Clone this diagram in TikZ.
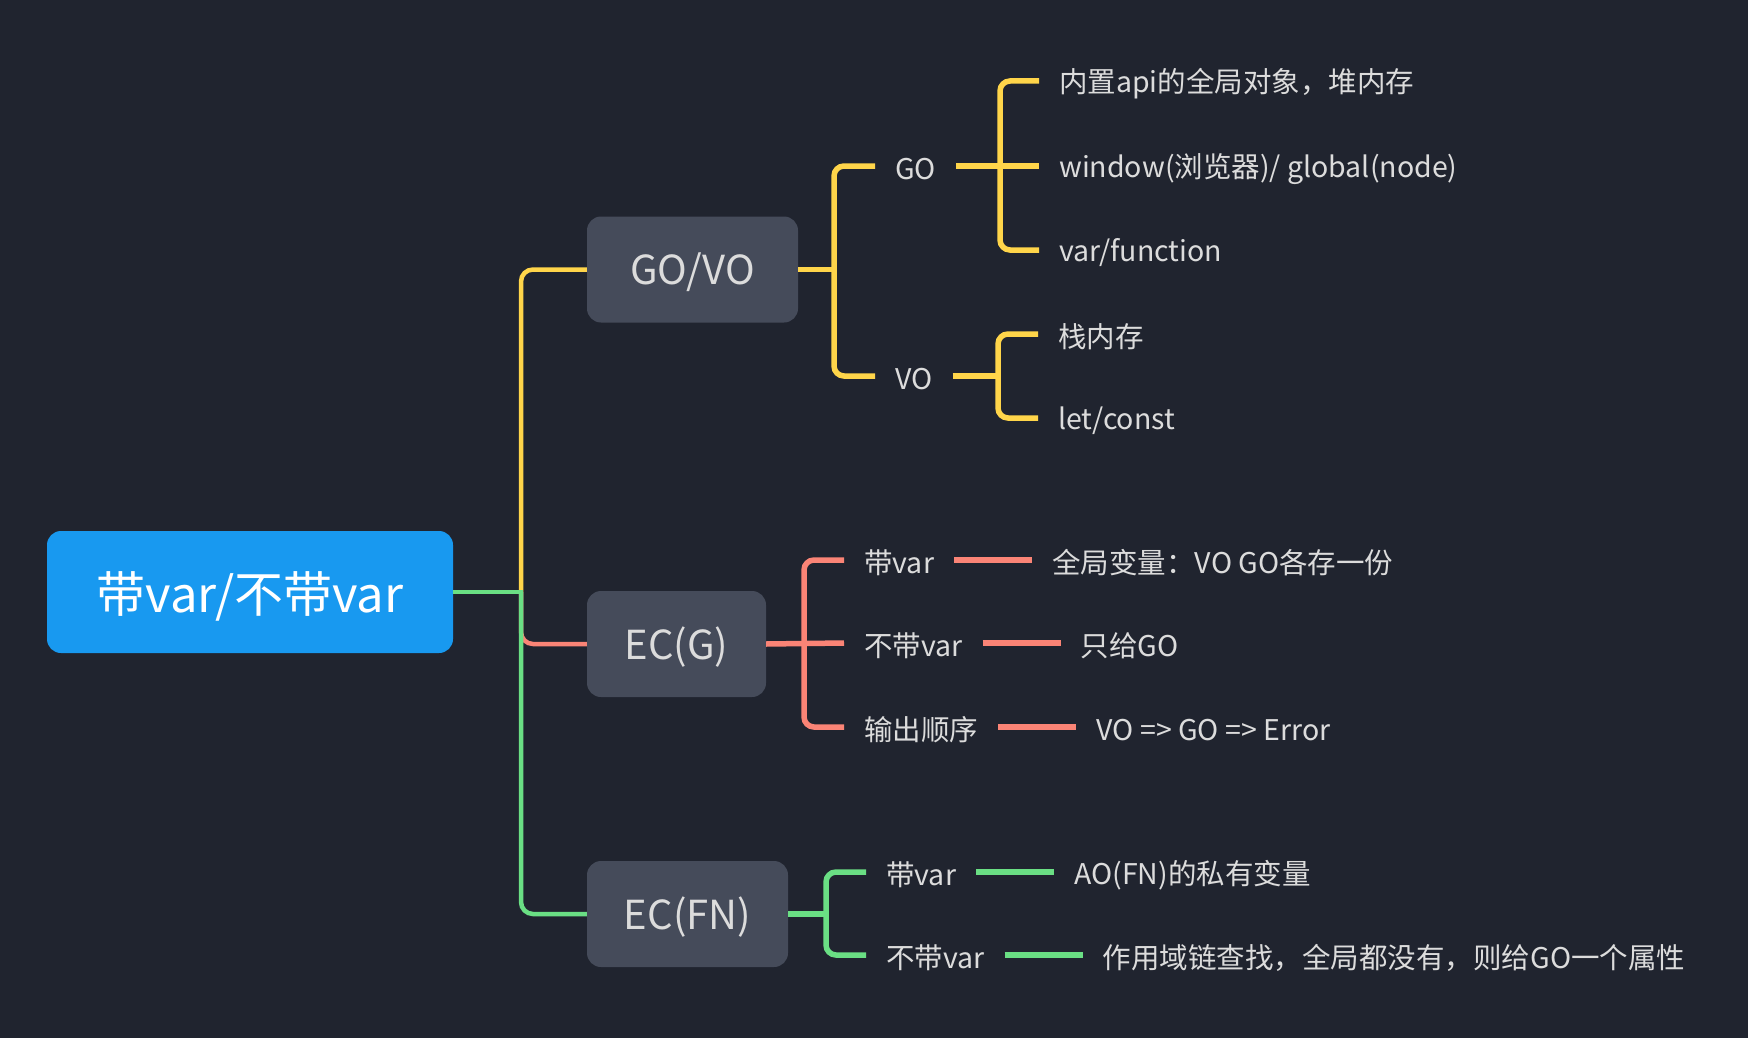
\documentclass[tikz,border=0pt]{standalone}
\usepackage{fontspec}
\setmainfont{Noto Sans CJK SC}
\usetikzlibrary{positioning}
\definecolor{bgc}{HTML}{20242F}
\definecolor{bluec}{HTML}{1899F0}
\definecolor{boxc}{HTML}{454B5A}
\definecolor{ylw}{HTML}{FFD54A}
\definecolor{rdc}{HTML}{FA8476}
\definecolor{gnc}{HTML}{6ADF84}
\definecolor{txt}{HTML}{DCDCDC}
\begin{document}
\begin{tikzpicture}[x=1pt,y=-1pt,
  rootbox/.style={rectangle, rounded corners=14pt, fill=bluec, text=white, inner sep=0pt,
    font=\fontsize{49}{56}\selectfont},
  catbox/.style={rectangle, rounded corners=14pt, fill=boxc, text=txt, inner sep=0pt,
    minimum height=106pt, font=\fontsize{40}{46}\selectfont},
  leaf/.style={anchor=west, inner sep=0pt, text=txt, font=\fontsize{28.5}{34}\selectfont},
  far/.style={leaf, right=118pt of #1},
  mainln/.style={line width=4.5pt, rounded corners=12pt},
  subln/.style={line width=5.5pt, rounded corners=10pt},
]
\fill[bgc] (0,0) rectangle (1748,1038);
\useasboundingbox (0,0) rectangle (1748,1038);

% main nodes
\node[rootbox, minimum width=406pt, minimum height=122pt] (root) at (250,592) {};
\node[text=white, font=\fontsize{49}{56}\selectfont, inner sep=0pt] (roottext) at (250,596) {带var/不带var};
\node[catbox, minimum width=211pt] (govo) at (692.5,269.5) {};
\node[text=txt, font=\fontsize{40}{46}\selectfont, inner sep=0pt] (govot) at (692.5,272.5) {GO/VO};
\node[catbox, minimum width=179pt] (ecg) at (676.5,644) {};
\node[text=txt, font=\fontsize{40}{46}\selectfont, inner sep=0pt] (ecgt) at (676.5,647) {EC(G)};
\node[catbox, minimum width=201pt] (ecfn) at (687.5,914) {};
\node[text=txt, font=\fontsize{40}{46}\selectfont, inner sep=0pt] (ecfnt) at (687.5,917) {EC(FN)};

% GO/VO subtree
\node[leaf] (go) at (895,169) {GO};
\node[leaf] (vo) at (895,379) {VO};
\node[leaf] (g1) at (1059,84) {内置api的全局对象，堆内存};
\node[leaf] (g2) at (1059,169) {window(浏览器)/ global(node)};
\node[leaf] (g3) at (1059,253) {var/function};
\node[leaf] (v1) at (1058,337) {栈内存};
\node[leaf] (v2) at (1058,421) {let/const};

% EC(G) subtree
\node[leaf] (e1) at (864,563) {带var};
\node[leaf] (e2) at (864,646) {不带var};
\node[leaf] (e3) at (864,730) {输出顺序};
\node[far=e1] (e1l) {全局变量：VO GO各存一份};
\node[far=e2] (e2l) {只给GO};
\node[far=e3] (e3l) {VO => GO => Error};

% EC(FN) subtree
\node[leaf] (f1) at (886,875) {带var};
\node[leaf] (f2) at (886,958) {不带var};
\node[far=f1] (f1l) {AO(FN)的私有变量};
\node[far=f2] (f2l) {作用域链查找，全局都没有，则给GO一个属性};

% trunk
\coordinate (trunk) at (521,592);
\draw[mainln, ylw] (trunk) |- (govo.west);
\draw[mainln, rdc] (trunk) |- (ecg.west);
\draw[mainln, gnc] (trunk) |- (ecfn.west);
\draw[line width=4.5pt, gnc] (root.east) -- ([xshift=2pt]trunk);

% GO/VO brackets
\draw[subln, ylw] (govo.east) -- (834,269.5);
\draw[subln, ylw] ([xshift=-20pt,yshift=3pt]go.west) -| (834,269.5) |- ([xshift=-20pt,yshift=3pt]vo.west);
\draw[subln, ylw] ([xshift=20pt,yshift=3pt]go.east) -- ([xshift=-20pt,yshift=3pt]g2.west);
\draw[subln, ylw] ([xshift=-20pt,yshift=3pt]g1.west) -| (1000,166) |- ([xshift=-20pt,yshift=3pt]g3.west);
\draw[subln, ylw] ([xshift=20pt,yshift=3pt]vo.east) -- (998,376);
\draw[subln, ylw] ([xshift=-20pt,yshift=3pt]v1.west) -| (998,376) |- ([xshift=-20pt,yshift=3pt]v2.west);

% EC(G) brackets
\draw[subln, rdc] (ecg.east) -- ([xshift=-20pt,yshift=3pt]e2.west);
\draw[subln, rdc] ([xshift=-20pt,yshift=3pt]e1.west) -| (804,643) |- ([xshift=-20pt,yshift=3pt]e3.west);
\draw[subln, rdc] ([xshift=20pt,yshift=3pt]e1.east) -- ([xshift=-20pt,yshift=3pt]e1l.west);
\draw[subln, rdc] ([xshift=20pt,yshift=3pt]e2.east) -- ([xshift=-20pt,yshift=3pt]e2l.west);
\draw[subln, rdc] ([xshift=20pt,yshift=3pt]e3.east) -- ([xshift=-20pt,yshift=3pt]e3l.west);

% EC(FN) brackets
\draw[subln, gnc] (ecfn.east) -- (826,914);
\draw[subln, gnc] ([xshift=-20pt,yshift=3pt]f1.west) -| (826,914) |- ([xshift=-20pt,yshift=3pt]f2.west);
\draw[subln, gnc] ([xshift=20pt,yshift=3pt]f1.east) -- ([xshift=-20pt,yshift=3pt]f1l.west);
\draw[subln, gnc] ([xshift=20pt,yshift=3pt]f2.east) -- ([xshift=-20pt,yshift=3pt]f2l.west);
\end{tikzpicture}
\end{document}
